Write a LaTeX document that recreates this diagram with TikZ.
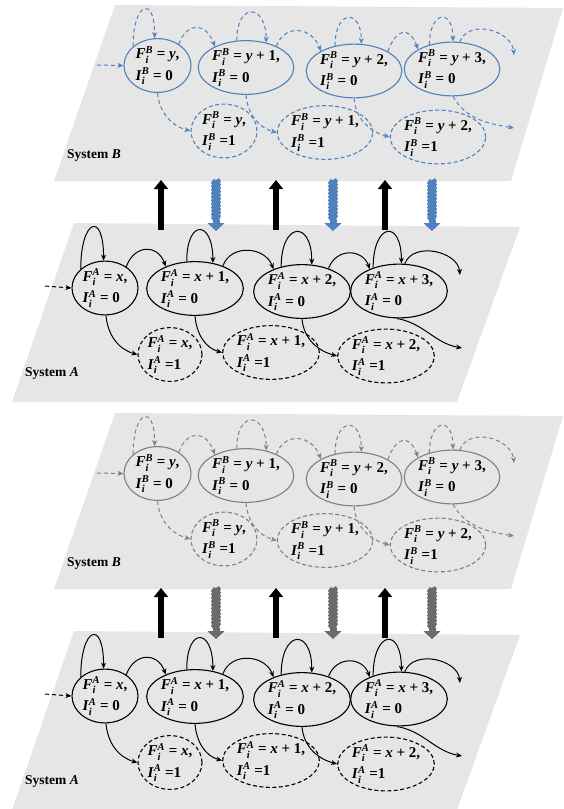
\documentclass[tikz,border=0pt]{standalone}
\usepackage{amsmath}
\usepackage{fontspec}
\setmainfont{Liberation Serif}
\usetikzlibrary{shapes.geometric,arrows.meta,decorations.pathmorphing}
\definecolor{panelfill}{HTML}{E6E6E6}
\definecolor{bblue}{HTML}{4F81BD}
\definecolor{bgray}{HTML}{808080}
\definecolor{wgray}{HTML}{6B6B6B}
\newcommand\vsym[3]{\textit{#1}$^{\textit{#3}}_{\textit{#2}}$}
\tikzset{
  stnode/.style={ellipse, draw, line width=1.1pt, inner sep=0pt, align=left,
     font=\fontsize{15}{21.5}\selectfont\bfseries, text=black},
  dnode/.style={stnode, dash pattern=on 4pt off 2.5pt},
  tr/.style={line width=1pt, -{Stealth[length=6pt,width=5pt]}},
  dtr/.style={tr, dash pattern=on 4pt off 3pt},
  lbl/.style={font=\fontsize{13.5}{15}\selectfont\bfseries, anchor=west, inner sep=0pt},
  uparr/.style={line width=6.5pt, -{Triangle[length=9pt,width=14pt]}},
  wavy/.style={line width=7pt, decorate, decoration={snake, amplitude=0.7pt, segment length=3.5pt}},
  wavehead/.style={line width=7pt, -{Triangle[length=8pt,width=17pt]}},
}
\newcommand\drawpair[4]{%
\begin{scope}[yshift=#2, name prefix=#1]
\fill[panelfill] (115,-5) -- (563,-8) -- (511,-181) -- (54,-181) -- cycle;
\fill[panelfill] (74,-223) -- (520,-227) -- (457,-402) -- (12,-402) -- cycle;
\node[lbl] (sysB) at (67,-155) {System \textit{B}};
\node[lbl] (sysA) at (25,-373) {System \textit{A}};
% system B states
\node[stnode, draw=#3, minimum width=67pt, minimum height=48pt] (b1) at (157.5,-65.5) {\vsym{F}{i}{B} = \textit{y},\\\vsym{I}{i}{B} = 0};
\node[stnode, draw=#3, minimum width=93pt, minimum height=47pt] (b2) at (246,-67.5) {\vsym{F}{i}{B} = \textit{y} + 1,\\\vsym{I}{i}{B} = 0};
\node[stnode, draw=#3, minimum width=93pt, minimum height=48pt] (b3) at (354,-71) {\vsym{F}{i}{B} = \textit{y} + 2,\\\vsym{I}{i}{B} = 0};
\node[stnode, draw=#3, minimum width=89pt, minimum height=48pt] (b4) at (452,-69) {\vsym{F}{i}{B} = \textit{y} + 3,\\\vsym{I}{i}{B} = 0};
\node[dnode, draw=#3, minimum width=66pt, minimum height=48pt] (c1) at (224,-131) {\vsym{F}{i}{B} = \textit{y},\\\vsym{I}{i}{B} =1};
\node[dnode, draw=#3, minimum width=77pt, minimum height=48pt] (c2) at (325,-132.5) {\vsym{F}{i}{B} = \textit{y} + 1,\\\vsym{I}{i}{B} =1};
\node[dnode, draw=#3, minimum width=88pt, minimum height=50pt] (c3) at (438,-137) {\vsym{F}{i}{B} = \textit{y} + 2,\\\vsym{I}{i}{B} =1};
% system A states
\node[stnode, minimum width=66pt, minimum height=43pt] (a1) at (105,-288) {\vsym{F}{i}{A} = \textit{x},\\\vsym{I}{i}{A} = 0};
\node[stnode, minimum width=93pt, minimum height=45pt] (a2) at (195,-288.5) {\vsym{F}{i}{A} = \textit{x} + 1,\\\vsym{I}{i}{A} = 0};
\node[stnode, minimum width=93pt, minimum height=45pt] (a3) at (302,-291.5) {\vsym{F}{i}{A} = \textit{x} + 2,\\\vsym{I}{i}{A} = 0};
\node[stnode, minimum width=88pt, minimum height=45pt] (a4) at (399,-291) {\vsym{F}{i}{A} = \textit{x} + 3,\\\vsym{I}{i}{A} = 0};
\node[dnode, minimum width=64pt, minimum height=45pt] (d1) at (170,-354.5) {\vsym{F}{i}{A} = \textit{x},\\\vsym{I}{i}{A} =1};
\node[dnode, minimum width=82pt, minimum height=45pt] (d2) at (271,-352.5) {\vsym{F}{i}{A} = \textit{x} + 1,\\\vsym{I}{i}{A} =1};
\node[dnode, minimum width=88pt, minimum height=48pt] (d3) at (386,-356) {\vsym{F}{i}{A} = \textit{x} + 2,\\\vsym{I}{i}{A} =1};
% system B transitions
\coordinate (inB) at (97,-65);
\coordinate (outB1) at (514,-55);
\coordinate (outB2) at (514,-128);
\draw[dtr, #3] (inB) -- (b1.west);
\draw[dtr, #3] (b1.142) to[out=90,in=90,distance=44pt] (b1.96);
\draw[dtr, #3] (b1.45) to[out=70,in=110,distance=25pt] (b2.146);
\draw[dtr, #3] (b2.109) to[out=90,in=90,distance=39pt] (b2.51);
\draw[dtr, #3] (b2.35) to[out=70,in=110,distance=25pt] (b3.149);
\draw[dtr, #3] (b3.127) to[out=90,in=90,distance=36pt] (b3.75);
\draw[dtr, #3] (b3.30) to[out=70,in=110,distance=25pt] (b4.150);
\draw[dtr, #3] (b4.133) to[out=90,in=90,distance=34pt] (b4.88);
\draw[dtr, #3] (b4.74) to[out=70,in=95,distance=25pt] (outB1);
\draw[dtr, #3] (b1.-90) to[out=-85,in=165] (c1.west);
\draw[dtr, #3] (b2.-90) to[out=-85,in=165] (c2.west);
\draw[dtr, #3] (b3.-90) to[out=-85,in=165] (c3.west);
\draw[dtr, #3] (b4.-88) to[out=-60,in=170] (outB2);
% system A transitions
\coordinate (inA) at (45,-286);
\coordinate (outA1) at (460,-275);
\coordinate (outA2) at (462,-348);
\draw[dtr] (inA) -- (a1.west);
\draw[tr] (a1.142) to[out=90,in=90,distance=50pt] (a1.93);
\draw[tr] (a1.45) to[out=70,in=110,distance=24pt] (a2.143);
\draw[tr] (a2.107) to[out=90,in=90,distance=43pt] (a2.55);
\draw[tr] (a2.39) to[out=70,in=110,distance=24pt] (a3.142);
\draw[tr] (a3.130) to[out=90,in=90,distance=45pt] (a3.70);
\draw[tr] (a3.41) to[out=70,in=110,distance=22pt] (a4.143);
\draw[tr] (a4.138) to[out=90,in=90,distance=45pt] (a4.85);
\draw[tr] (a4.78) to[out=70,in=95,distance=24pt] (outA1);
\draw[tr] (a1.-88) to[out=-85,in=165] (d1.west);
\draw[tr] (a2.-90) to[out=-85,in=165] (d2.west);
\draw[tr] (a3.-90) to[out=-85,in=165] (d3.west);
\draw[tr] (a4.-95) to[out=-10,in=170] (outA2);
% coupling arrows
\foreach \k/\xx in {1/161,2/276,3/385}{
  \coordinate (k\k s) at (\xx,-230);
  \coordinate (k\k e) at (\xx,-180);
  \draw[uparr] (k\k s) -- (k\k e);
}
\foreach \k/\xx in {1/216,2/333,3/432}{
  \coordinate (w\k s) at (\xx,-180);
  \coordinate (w\k m) at (\xx,-220);
  \coordinate (w\k e) at (\xx,-231);
  \draw[wavy, #4] (w\k s) -- (w\k m);
  \draw[wavehead, #4] (w\k m) -- (w\k e);
}
\end{scope}}

\begin{document}
\begin{tikzpicture}[x=1pt,y=1pt]
\useasboundingbox (0,0) rectangle (564,-809);
\drawpair{t}{0pt}{bblue}{bblue}
\drawpair{u}{-408pt}{bgray}{wgray}
\end{tikzpicture}
\end{document}
